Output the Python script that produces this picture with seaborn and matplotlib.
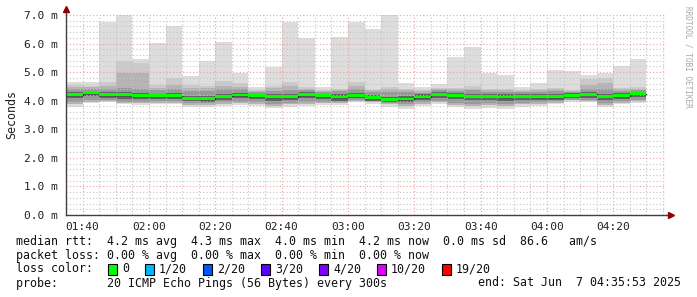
import matplotlib
matplotlib.use("Agg")
import matplotlib.pyplot as plt
import seaborn as sns
import pandas as pd

# ---------------- data ----------------
bar_start = ["01:35", "01:40", "01:45", "01:50", "01:55", "02:00", "02:05", "02:10", "02:15",
             "02:20", "02:25", "02:30", "02:35", "02:40", "02:45", "02:50", "02:55", "03:00",
             "03:05", "03:10", "03:15", "03:20", "03:25", "03:30", "03:35", "03:40", "03:45",
             "03:50", "03:55", "04:00", "04:05", "04:10", "04:15", "04:20", "04:25"]

# RTT in milliseconds
rtt_max = [4.67, 4.64, 6.77, 7.00, 5.46, 6.02, 6.61, 4.87, 5.39, 6.06, 4.98, 4.47, 5.19, 6.77,
           6.21, 4.47, 6.24, 6.77, 6.51, 7.00, 4.62, 4.47, 4.59, 5.54, 5.88, 4.98, 4.90, 4.47,
           4.62, 5.08, 5.05, 4.90, 4.98, 5.22, 5.45]
rtt_p19 = [4.55, 4.52, 4.67, 5.39, 5.33, 4.55, 4.81, 4.55, 4.52, 4.70, 4.63, 4.38, 4.53, 4.67,
           4.47, 4.38, 4.40, 4.67, 4.38, 4.47, 4.40, 4.38, 4.43, 4.43, 4.52, 4.40, 4.40, 4.38,
           4.40, 4.43, 4.38, 4.76, 4.80, 4.43, 4.47]
rtt_p18 = [4.48, 4.47, 4.52, 4.96, 4.96, 4.45, 4.55, 4.45, 4.45, 4.50, 4.48, 4.35, 4.45, 4.50,
           4.42, 4.35, 4.38, 4.52, 4.36, 4.40, 4.36, 4.34, 4.40, 4.40, 4.42, 4.37, 4.36, 4.35,
           4.36, 4.40, 4.35, 4.55, 4.62, 4.40, 4.42]
core_hi = [4.42, 4.42, 4.42, 4.45, 4.42, 4.38, 4.42, 4.35, 4.35, 4.40, 4.40, 4.30, 4.35, 4.38,
           4.36, 4.30, 4.33, 4.42, 4.32, 4.32, 4.30, 4.28, 4.36, 4.34, 4.36, 4.32, 4.30, 4.30,
           4.30, 4.34, 4.30, 4.40, 4.40, 4.34, 4.38]
dark_hi = [4.30, 4.35, 4.30, 4.30, 4.27, 4.25, 4.26, 4.18, 4.16, 4.24, 4.28, 4.25, 4.22, 4.22,
           4.29, 4.25, 4.22, 4.28, 4.20, 4.13, 4.15, 4.22, 4.30, 4.27, 4.23, 4.23, 4.22, 4.23,
           4.22, 4.23, 4.27, 4.30, 4.24, 4.27, 4.32]
rtt_median = [4.21, 4.28, 4.21, 4.21, 4.18, 4.17, 4.17, 4.08, 4.07, 4.15, 4.20, 4.17, 4.14, 4.14,
              4.21, 4.17, 4.13, 4.17, 4.11, 4.04, 4.06, 4.13, 4.22, 4.19, 4.15, 4.15, 4.13, 4.15,
              4.14, 4.14, 4.19, 4.22, 4.15, 4.18, 4.24]
dark_lo = [4.08, 4.16, 4.10, 4.06, 4.05, 4.05, 4.05, 3.98, 3.97, 4.03, 4.08, 4.05, 4.00, 4.02,
           4.08, 4.06, 4.00, 4.08, 4.00, 3.95, 3.96, 4.03, 4.10, 4.05, 4.02, 4.02, 4.00, 4.03,
           4.02, 4.04, 4.10, 4.10, 4.02, 4.06, 4.12]
core_lo = [3.95, 4.02, 4.03, 3.97, 3.97, 3.98, 3.98, 3.92, 3.92, 3.95, 3.97, 3.95, 3.90, 3.93,
           3.95, 3.97, 3.97, 4.02, 3.99, 3.93, 3.88, 3.95, 4.00, 3.93, 3.88, 3.92, 3.88, 3.93,
           3.95, 3.98, 4.04, 4.03, 3.93, 3.98, 4.02]
rtt_p2 = [3.88, 3.97, 4.00, 3.93, 3.92, 3.93, 3.93, 3.86, 3.85, 3.88, 3.92, 3.90, 3.82, 3.87,
          3.88, 3.92, 3.92, 3.98, 3.95, 3.87, 3.80, 3.88, 3.96, 3.86, 3.80, 3.84, 3.80, 3.87,
          3.88, 3.93, 4.01, 4.00, 3.86, 3.93, 3.98]
rtt_min = [3.79, 3.93, 3.97, 3.87, 3.85, 3.88, 3.88, 3.79, 3.77, 3.81, 3.85, 3.83, 3.73, 3.79,
           3.81, 3.85, 3.85, 3.94, 3.90, 3.79, 3.71, 3.81, 3.90, 3.79, 3.71, 3.76, 3.71, 3.79,
           3.81, 3.87, 3.97, 3.97, 3.79, 3.87, 3.93]

x_ticks = ["01:40", "02:00", "02:20", "02:40", "03:00", "03:20", "03:40", "04:00", "04:20"]
y_ticks = [0, 1, 2, 3, 4, 5, 6, 7]
y_tick_labels = ["0.0 m", "1.0 m", "2.0 m", "3.0 m", "4.0 m", "5.0 m", "6.0 m", "7.0 m"]

loss_labels = ["0", "1/20", "2/20", "3/20", "4/20", "10/20", "19/20"]
loss_colors = ["#00ff00", "#00b8ff", "#0059ff", "#5e00ff", "#7e00ff", "#dd00ff", "#ff0000"]

legend_lines = [
    "median rtt:  4.2 ms avg  4.3 ms max  4.0 ms min  4.2 ms now  0.0 ms sd  86.6   am/s",
    "packet loss: 0.00 % avg  0.00 % max  0.00 % min  0.00 % now",
    "loss color:",
    "probe:       20 ICMP Echo Pings (56 Bytes) every 300s",
]
end_text = "end: Sat Jun  7 04:35:53 2025"

# ---------------- figure ----------------
sns.set_theme(style="white")
plt.rcParams["font.family"] = ["DejaVu Sans Mono"]

def minutes(s):
    h, m = s.split(":")
    return int(h) * 60 + int(m)

df = pd.DataFrame({
    "t": [minutes(s) for s in bar_start],
    "max": rtt_max, "p19": rtt_p19, "p18": rtt_p18, "core_hi": core_hi,
    "dark_hi": dark_hi, "median": rtt_median, "dark_lo": dark_lo,
    "core_lo": core_lo, "p2": rtt_p2, "min": rtt_min,
})
STEP = 5  # minutes per bar

W, H = 697, 297
fig = plt.figure(figsize=(W / 100, H / 100), dpi=100)
fig.patch.set_facecolor("white")
L, R, T, B = 66, 666, 15, 215
ax = fig.add_axes([L / W, (H - B) / H, (R - L) / W, (B - T) / H])
ax.set_facecolor("white")

x_lo = minutes("01:35") + 53 / 60
x_hi = minutes("04:35") + 53 / 60
ax.set_xlim(x_lo, x_hi)
ax.set_ylim(0, 7.0)

layers = [("min", "max", "#dddddd"), ("p2", "p19", "#cacaca"), ("p2", "p18", "#b4b4b4"),
          ("core_lo", "core_hi", "#999999"), ("dark_lo", "dark_hi", "#636363")]
for lo, hi, col in layers:
    ax.bar(df["t"], df[hi] - df[lo], bottom=df[lo], width=STEP, align="edge",
           color=col, linewidth=0, antialiased=False, zorder=1)

# dark median step line underneath the green band
step_df = pd.DataFrame({"t": list(df["t"]) + [df["t"].iloc[-1] + STEP],
                        "m": list(df["median"]) + [df["median"].iloc[-1]]})
sns.lineplot(data=step_df, x="t", y="m", drawstyle="steps-post", color="#202020",
             linewidth=1.0, ax=ax, zorder=3)
band = 0.10
ax.bar(df["t"], band, bottom=df["median"] - band / 2, width=STEP, align="edge",
       color=loss_colors[0], linewidth=0, antialiased=False, zorder=4)

# grid
ax.set_xticks([minutes(s) for s in x_ticks])
ax.set_xticklabels(x_ticks)
ax.set_xticks([t for t in range(100 - 5, 280, 5) if (t - 100) % 20 != 0], minor=True)
ax.set_yticks(y_ticks)
ax.set_yticklabels(y_tick_labels)
ax.set_yticks([v / 5 for v in range(0, 36) if v % 5 != 0], minor=True)
ax.set_axisbelow(False)
ax.grid(which="minor", color="#c4c4c4", linestyle=(0, (1, 2)), linewidth=0.8, zorder=2.5)
ax.grid(which="major", color="#e8a0a0", linestyle=(0, (1, 2)), linewidth=0.8, zorder=2.5)
ax.xaxis.grid(True, which="major")

ax.tick_params(axis="y", which="both", length=0, pad=6, labelsize=8.0, colors="#202020")
ax.tick_params(axis="x", which="major", length=3, width=0.8, pad=2, labelsize=8.0,
               colors="#202020", direction="out")
ax.tick_params(axis="x", which="minor", length=0)
ax.set_xlabel("")
ax.set_ylabel("Seconds", fontsize=8.4, color="#202020")
ax.yaxis.set_label_coords(-48 / 600, 0.5)

for side in ["top", "right"]:
    ax.spines[side].set_visible(False)
for side in ["left", "bottom"]:
    ax.spines[side].set_color("#404040")
    ax.spines[side].set_linewidth(1.0)
    ax.spines[side].set_zorder(5)

# axis arrows
ax.plot([0, 0], [1, 1.03], transform=ax.transAxes, color="#404040", lw=1, clip_on=False)
ax.plot([1, 1.008], [0, 0], transform=ax.transAxes, color="#404040", lw=1, clip_on=False)
ax.plot(0, 1.03, marker="^", ms=4, color="#900000", transform=ax.transAxes, clip_on=False, zorder=6)
ax.plot(1.008, 0, marker=">", ms=4, color="#900000", transform=ax.transAxes, clip_on=False, zorder=6)

# right-side credit
fig.text(688 / W, 1 - 6 / H, "RRDTOOL / TOBI OETIKER", rotation=270, fontsize=5.6,
         color="#a8a8a8", ha="center", va="top")

# legend text
fs = 8.4
rows = [241, 255, 269, 283]
for yrow, line in zip(rows, legend_lines):
    fig.text(16 / W, 1 - yrow / H, line, fontsize=fs, color="#101010", ha="left", va="center")
fig.text(681 / W, 1 - rows[3] / H, end_text, fontsize=fs, color="#101010", ha="right", va="center")

xpos = 108
for lab, col in zip(loss_labels, loss_colors):
    rect = plt.Rectangle((xpos / W, 1 - (rows[2] + 5.5) / H), 9 / W, 11 / H,
                         transform=fig.transFigure, facecolor=col, edgecolor="black", linewidth=0.8)
    fig.patches.append(rect)
    fig.text((xpos + 14) / W, 1 - rows[2] / H, lab, fontsize=fs, color="#101010", ha="left", va="center")
    xpos = xpos + 14 + len(lab) * 7 + 16

fig.savefig("out.png", dpi=100, facecolor="white")
